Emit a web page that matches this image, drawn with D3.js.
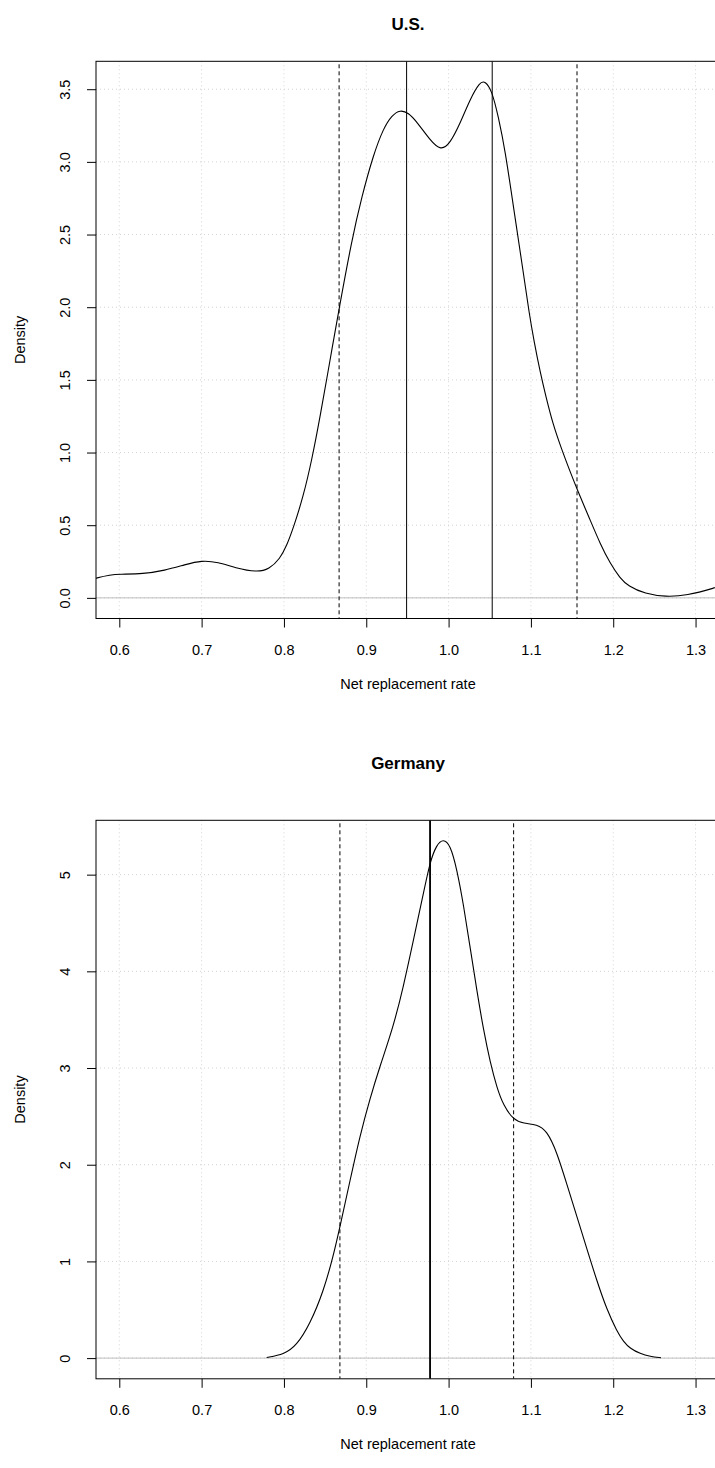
<!DOCTYPE html>
<html>
<head>
<meta charset="utf-8">
<script src="https://cdnjs.cloudflare.com/ajax/libs/d3/7.8.5/d3.min.js"></script>
<style>
  body { margin: 0; background: #fff; }
  text { font-family: "Liberation Sans", Arial, sans-serif; fill: #000; }
</style>
</head>
<body>
<div id="chart"></div>
<script>
// tick labels
const xTicks = [0.6, 0.7, 0.8, 0.9, 1.0, 1.1, 1.2, 1.3];
const usYTicks = [0, 0.5, 1, 1.5, 2, 2.5, 3, 3.5];
const deYTicks = [0, 1, 2, 3, 4, 5];

// density estimates, [rate, density]
const usDensity = [
  [0.560, 0.115], [0.5726, 0.138], [0.589, 0.158], [0.600, 0.163], [0.629, 0.165],
  [0.655, 0.188], [0.680, 0.229], [0.700, 0.258], [0.720, 0.246], [0.741, 0.206],
  [0.767, 0.176], [0.782, 0.197], [0.7953, 0.270], [0.8034, 0.360], [0.8114, 0.480],
  [0.8236, 0.700], [0.8338, 0.947], [0.8439, 1.245], [0.856, 1.636], [0.8673, 2.000],
  [0.8824, 2.461], [0.8945, 2.760], [0.9087, 3.050], [0.9208, 3.230], [0.931, 3.320],
  [0.9411, 3.358], [0.9512, 3.338], [0.9614, 3.276], [0.9775, 3.149], [0.9905, 3.076],
  [1.0018, 3.126], [1.014, 3.264], [1.026, 3.430], [1.038, 3.550], [1.0443, 3.556],
  [1.0525, 3.493], [1.0605, 3.310], [1.0687, 3.080], [1.0788, 2.690], [1.091, 2.232],
  [1.0978, 1.960], [1.104, 1.760], [1.111, 1.560], [1.118, 1.390], [1.127, 1.190],
  [1.1375, 1.020], [1.1475, 0.870], [1.1565, 0.741], [1.172, 0.535], [1.184, 0.374],
  [1.1962, 0.237], [1.2084, 0.135], [1.218, 0.082], [1.2386, 0.0275], [1.264, 0.007],
  [1.289, 0.016], [1.324, 0.069], [1.340, 0.100]
];
const deDensity = [
  [0.779, 0.007], [0.800, 0.037], [0.8154, 0.130], [0.8316, 0.352], [0.8478, 0.685],
  [0.860, 1.056], [0.8688, 1.389], [0.8802, 1.833], [0.8923, 2.300], [0.9045, 2.685],
  [0.9166, 3.019], [0.9328, 3.426], [0.9449, 3.833], [0.9571, 4.315], [0.9692, 4.796],
  [0.9773, 5.130], [0.9854, 5.310], [0.9935, 5.370], [1.002, 5.310], [1.0101, 5.056],
  [1.0182, 4.685], [1.0263, 4.241], [1.0344, 3.796], [1.0425, 3.389], [1.0506, 3.056],
  [1.0587, 2.796], [1.0668, 2.611], [1.0789, 2.463], [1.0911, 2.426], [1.1073, 2.419],
  [1.1194, 2.352], [1.1316, 2.130], [1.1437, 1.796], [1.1559, 1.463], [1.168, 1.130],
  [1.1802, 0.796], [1.1923, 0.500], [1.2045, 0.278], [1.2125, 0.170], [1.2206, 0.100],
  [1.2328, 0.045], [1.245, 0.017], [1.258, 0.004]
];

// reference lines
const usSolid = [0.949, 1.053];
const usDashed = [0.867, 1.156];
const deSolid = [0.977, 0.978];
const deDashed = [0.868, 1.079];

const W = 715, H = 1468;
const left = 96, right = 720;

const svg = d3.select("#chart")
  .append("svg")
  .attr("width", W)
  .attr("height", H);

function panel(p) {
  const x = d3.scaleLinear().domain([0.5717, 1.3297]).range([left, right]);
  const y = d3.scaleLinear().domain(p.yDomain).range([p.bottom, p.top]);
  const g = svg.append("g");

  g.append("clipPath").attr("id", "clip" + p.id)
    .append("rect")
    .attr("x", left).attr("y", p.top)
    .attr("width", right - left).attr("height", p.bottom - p.top);

  const inner = g.append("g").attr("clip-path", `url(#clip${p.id})`);

  // grid
  inner.selectAll(".vg").data(xTicks).join("line")
    .attr("x1", d => x(d)).attr("x2", d => x(d))
    .attr("y1", p.top).attr("y2", p.bottom)
    .attr("stroke", "#d3d3d3").attr("stroke-dasharray", "1,3");
  inner.selectAll(".hg").data(p.yTicks).join("line")
    .attr("x1", left).attr("x2", right)
    .attr("y1", d => y(d)).attr("y2", d => y(d))
    .attr("stroke", "#d3d3d3").attr("stroke-dasharray", "1,3");

  // zero line
  inner.append("line")
    .attr("x1", left).attr("x2", right)
    .attr("y1", y(0)).attr("y2", y(0))
    .attr("stroke", "#bebebe");

  // vertical reference lines
  inner.selectAll(".solid").data(p.solid).join("line")
    .attr("x1", d => x(d)).attr("x2", d => x(d))
    .attr("y1", p.top).attr("y2", p.bottom)
    .attr("stroke", "#000");
  inner.selectAll(".dashed").data(p.dashed).join("line")
    .attr("x1", d => x(d)).attr("x2", d => x(d))
    .attr("y1", p.top + 3).attr("y2", p.bottom)
    .attr("stroke", "#000").attr("stroke-dasharray", "4,3");

  // density curve
  inner.append("path")
    .datum(p.data)
    .attr("fill", "none")
    .attr("stroke", "#000")
    .attr("stroke-width", 1.1)
    .attr("d", d3.line().x(d => x(d[0])).y(d => y(d[1])).curve(d3.curveBasis));

  // box
  g.append("rect")
    .attr("x", left).attr("y", p.top)
    .attr("width", right - left).attr("height", p.bottom - p.top)
    .attr("fill", "none").attr("stroke", "#000");

  // x axis
  const xa = g.append("g")
    .attr("transform", `translate(0,${p.bottom})`)
    .call(d3.axisBottom(x).tickValues(xTicks).tickSize(9).tickPadding(17).tickFormat(d3.format(".1f")));
  xa.select(".domain").remove();
  xa.selectAll("text").attr("font-size", 14.5).attr("font-family", null);

  // y axis, labels parallel to axis
  const ya = g.append("g")
    .attr("transform", `translate(${left},0)`)
    .call(d3.axisLeft(y).tickValues(p.yTicks).tickSize(9).tickFormat(d3.format(p.fmt)));
  ya.select(".domain").remove();
  ya.selectAll("text")
    .attr("x", null).attr("dy", null)
    .attr("font-size", 14.5).attr("font-family", null)
    .attr("text-anchor", "middle")
    .attr("transform", "translate(-26,0) rotate(-90)");

  // titles
  g.append("text")
    .attr("x", (left + right) / 2).attr("y", p.titleY)
    .attr("text-anchor", "middle")
    .attr("font-size", 17).attr("font-weight", "bold")
    .text(p.title);
  g.append("text")
    .attr("x", (left + right) / 2).attr("y", p.bottom + 70)
    .attr("text-anchor", "middle")
    .attr("font-size", 14.5)
    .text("Net replacement rate");
  g.append("text")
    .attr("transform", `translate(25,${(p.top + p.bottom) / 2}) rotate(-90)`)
    .attr("text-anchor", "middle")
    .attr("font-size", 14.5)
    .text("Density");
}

panel({id: 1, title: "U.S.", titleY: 30, top: 61.3, bottom: 618.5,
  yDomain: [-0.142, 3.692], yTicks: usYTicks, fmt: ".1f",
  data: usDensity, solid: usSolid, dashed: usDashed});

panel({id: 2, title: "Germany", titleY: 769, top: 820.3, bottom: 1378.8,
  yDomain: [-0.214, 5.562], yTicks: deYTicks, fmt: "d",
  data: deDensity, solid: deSolid, dashed: deDashed});
</script>
</body>
</html>
